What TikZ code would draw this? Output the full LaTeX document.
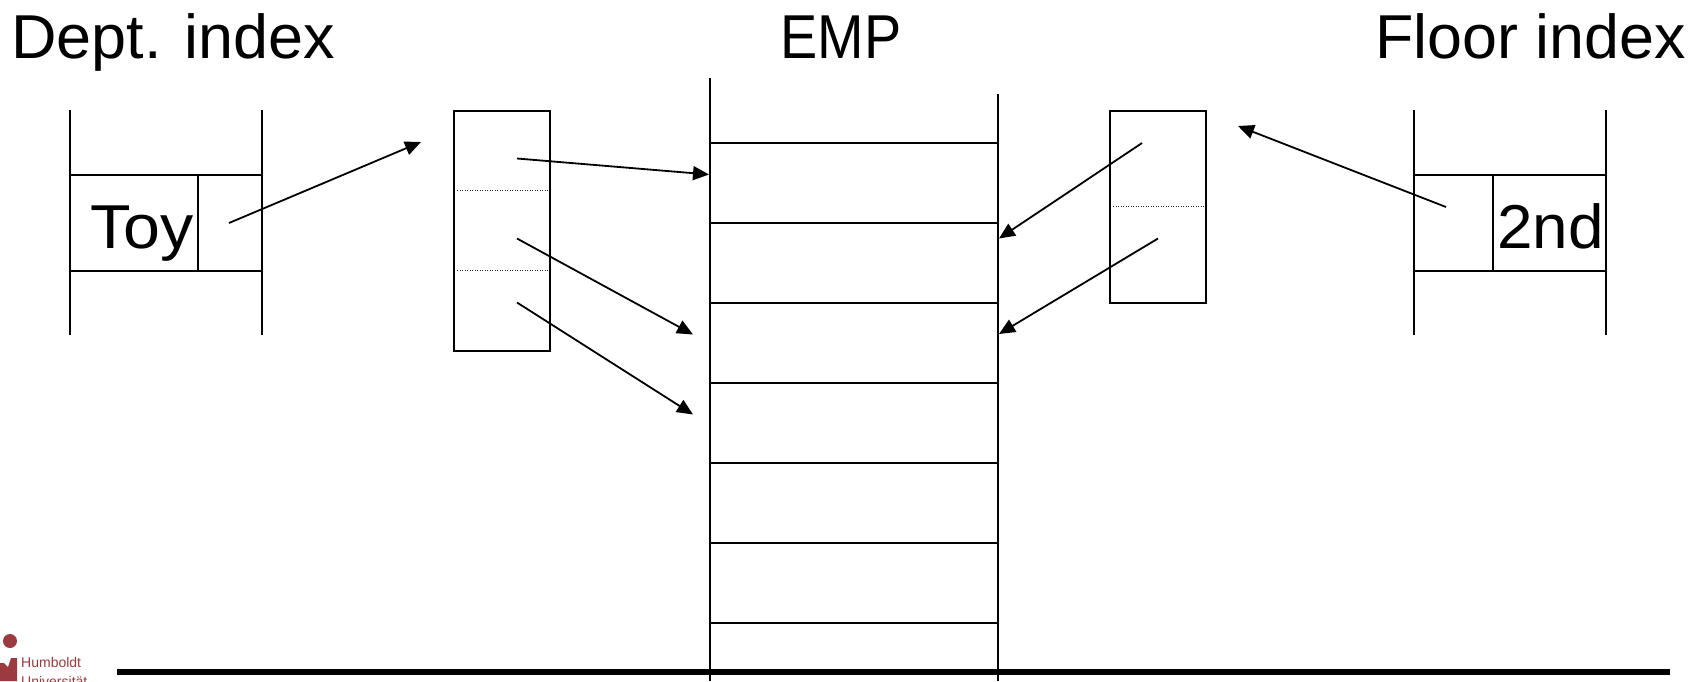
\documentclass[tikz,border=0pt]{standalone}
\usepackage{fontspec}
\setmainfont{Liberation Sans}
\usetikzlibrary{arrows.meta}
\definecolor{hu}{HTML}{9B3B3F}
\tikzset{
  rule/.style={line width=2pt,black},
  sep/.style={line width=1.1pt,dash pattern=on 1.3pt off 1.2pt,black!85},
  ptr/.style={line width=1.8pt,black,-{Triangle[length=16pt,width=14pt]}},
  big/.style={font=\fontsize{62}{62}\selectfont,inner sep=0pt,anchor=base west},
  logotext/.style={font=\fontsize{14}{14}\selectfont,text=hu,inner sep=0pt,anchor=base west},
  base/.style={x=1pt,y=-1pt}
}
\begin{document}
\begin{tikzpicture}[base]
\useasboundingbox (0,0) rectangle (1702,681);
\clip (0,0) rectangle (1702,681);
\fill[white] (0,0) rectangle (1702,681);
% titles
\node[big,xscale=1.015] (tdept) at (11,58) {Dept. index};
\node[big,xscale=0.9] (temp) at (780.5,58) {EMP};
\node[big,xscale=1.013] (tfloor) at (1375,58) {Floor index};
% left index
\draw[rule] (70,110) -- (70,335);
\draw[rule] (262,110) -- (262,335);
\draw[rule] (70,174.5) -- (262,174.5);
\draw[rule] (70,271) -- (262,271);
\draw[rule] (198,174.5) -- (198,271);
\node[big,xscale=1.07] (toy) at (90,248) {Toy};
% right index
\draw[rule] (1414,110) -- (1414,335);
\draw[rule] (1606,110) -- (1606,335);
\draw[rule] (1414,174.5) -- (1606,174.5);
\draw[rule] (1414,271) -- (1606,271);
\draw[rule] (1493,174.5) -- (1493,271);
\node[big,xscale=1.03] (second) at (1497,248) {2nd};
% bucket boxes
\draw[rule] (454,110.5) rectangle (550,351);
\draw[sep] (457,190.5) -- (548,190.5);
\draw[sep] (457,270.5) -- (548,270.5);
\draw[rule] (1110,110.5) rectangle (1206,303);
\draw[sep] (1113,206.5) -- (1204,206.5);
% EMP table
\draw[rule] (710,78) -- (710,681);
\draw[rule] (998,94) -- (998,681);
\foreach \y in {143,222.5,303,383,463,542.5,622.5}
  \draw[rule] (710,\y) -- (998,\y);
% coordinates
\coordinate (a1) at (229,223);  \coordinate (a2) at (421,142);
\coordinate (b1) at (517,158.5);\coordinate (b2) at (709,174.5);
\coordinate (c1) at (517,238.5);\coordinate (c2) at (693,334.5);
\coordinate (d1) at (517,302.5);\coordinate (d2) at (693,414.5);
\coordinate (e1) at (1142,143); \coordinate (e2) at (999,238.5);
\coordinate (f1) at (1158,238.5);\coordinate (f2) at (999,334);
\coordinate (g1) at (1446,207); \coordinate (g2) at (1238,126);
\foreach \s/\t in {a1/a2,b1/b2,c1/c2,d1/d2,e1/e2,f1/f2,g1/g2}
  \draw[ptr] (\s) -- (\t);
% bottom rule
\draw[line width=6pt,black] (117,671.5) -- (1670,671.5);
% logo
\fill[hu] (10,641) circle (7);
\fill[hu] (0,663) -- (4,663) -- (8,667) -- (11,658) -- (17,658) -- (17,681) -- (0,681) -- cycle;
\node[logotext] (hub) at (21,667) {Humboldt};
\node[logotext] (uni) at (21,686) {Universität};
\end{tikzpicture}
\end{document}
